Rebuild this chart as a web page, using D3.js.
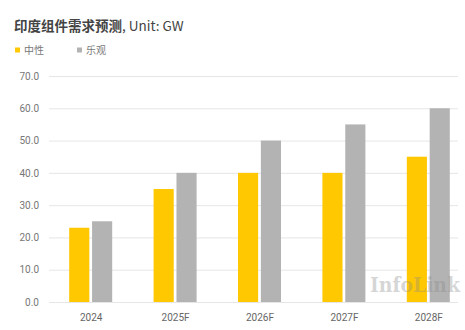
<!DOCTYPE html>
<html>
<head>
<meta charset="utf-8">
<script src="https://cdn.jsdelivr.net/npm/d3@7"></script>
<style>
  html, body { margin: 0; padding: 0; background: #fff; }
  svg { display: block; }
</style>
</head>
<body>
<svg id="chart" width="465" height="330"></svg>
<script>
// India module demand forecast (GW)
const categories = ["2024", "2025F", "2026F", "2027F", "2028F"];
const seriesNames = ["中性", "乐观"];
const neutral = [23, 35, 40, 40, 45];
const optimistic = [25, 40, 50, 55, 60];
const yTicks = [0, 10, 20, 30, 40, 50, 60, 70];
const colors = ["#FFC800", "#B3B3B3"];

const svg = d3.select("#chart");
const W = 465, H = 330;
const margin = { top: 76, right: -6, bottom: 28, left: 49 };
const plotBottom = H - margin.bottom;

const x = d3.scaleBand()
  .domain(categories)
  .range([margin.left, W - margin.right])
  .paddingInner(0)
  .paddingOuter(0);

const xInner = d3.scaleBand()
  .domain(seriesNames)
  .range([x.bandwidth() / 2 - 22, x.bandwidth() / 2 + 21])
  .paddingInner(0.12);

const y = d3.scaleLinear()
  .domain([0, 70])
  .range([plotBottom, margin.top]);

// Title
svg.append("text")
  .attr("x", 14).attr("y", 31)
  .attr("font-family", "'Noto Sans CJK SC', 'Noto Sans', sans-serif")
  .attr("font-size", 13.5)
  .attr("fill", "#444")
  .call(t => {
    t.append("tspan").attr("font-weight", 700).text("印度组件需求预测");
    t.append("tspan").attr("font-weight", 400).text(", Unit: GW");
  });

// Legend
const legend = svg.append("g");
[0, 1].forEach(i => {
  const lx = [15, 77][i];
  legend.append("rect")
    .attr("x", lx).attr("y", 47.5)
    .attr("width", 5).attr("height", 5)
    .attr("fill", colors[i]);
  legend.append("text")
    .attr("x", lx + 9).attr("y", 54)
    .attr("font-family", "'Noto Sans CJK SC', sans-serif")
    .attr("font-size", 10)
    .attr("fill", "#777")
    .text(seriesNames[i]);
});

// Gridlines and y labels
const yAxis = d3.axisLeft(y)
  .tickValues(yTicks)
  .tickSize(-(458 - margin.left))
  .tickPadding(10)
  .tickFormat(d3.format(".1f"));

const gy = svg.append("g")
  .attr("transform", `translate(${margin.left},0)`)
  .call(yAxis);
gy.select(".domain").remove();
gy.selectAll(".tick line").attr("stroke", "#e6e6e6").attr("stroke-width", 1);
gy.selectAll(".tick text")
  .attr("font-family", "Roboto, sans-serif")
  .attr("font-size", 10)
  .attr("fill", "#777");

// Bars
const rows = categories.map((c, i) => ({ cat: c, vals: [neutral[i], optimistic[i]] }));
const groups = svg.append("g").selectAll("g")
  .data(rows).join("g")
  .attr("transform", d => `translate(${x(d.cat)},0)`);

groups.selectAll("rect")
  .data(d => d.vals.map((v, i) => ({ name: seriesNames[i], v, i })))
  .join("rect")
  .attr("x", d => xInner(d.name))
  .attr("width", xInner.bandwidth())
  .attr("y", d => y(d.v))
  .attr("height", d => y(0) - y(d.v))
  .attr("fill", d => colors[d.i]);

// X labels
const xAxis = d3.axisBottom(x).tickSize(0).tickPadding(12);
const gx = svg.append("g")
  .attr("transform", `translate(0,${plotBottom})`)
  .call(xAxis);
gx.select(".domain").remove();
gx.selectAll(".tick text")
  .attr("font-family", "Roboto, sans-serif")
  .attr("font-size", 10)
  .attr("fill", "#666");

// Watermark, drawn over the bars
svg.append("text")
  .attr("x", 370).attr("y", 292)
  .attr("font-family", "'DejaVu Serif', serif")
  .attr("font-weight", 700)
  .attr("font-size", 20)
  .attr("fill", "#888")
  .attr("fill-opacity", 0.36)
  .attr("textLength", 90)
  .attr("lengthAdjust", "spacingAndGlyphs")
  .text("InfoLink");
</script>
</body>
</html>
